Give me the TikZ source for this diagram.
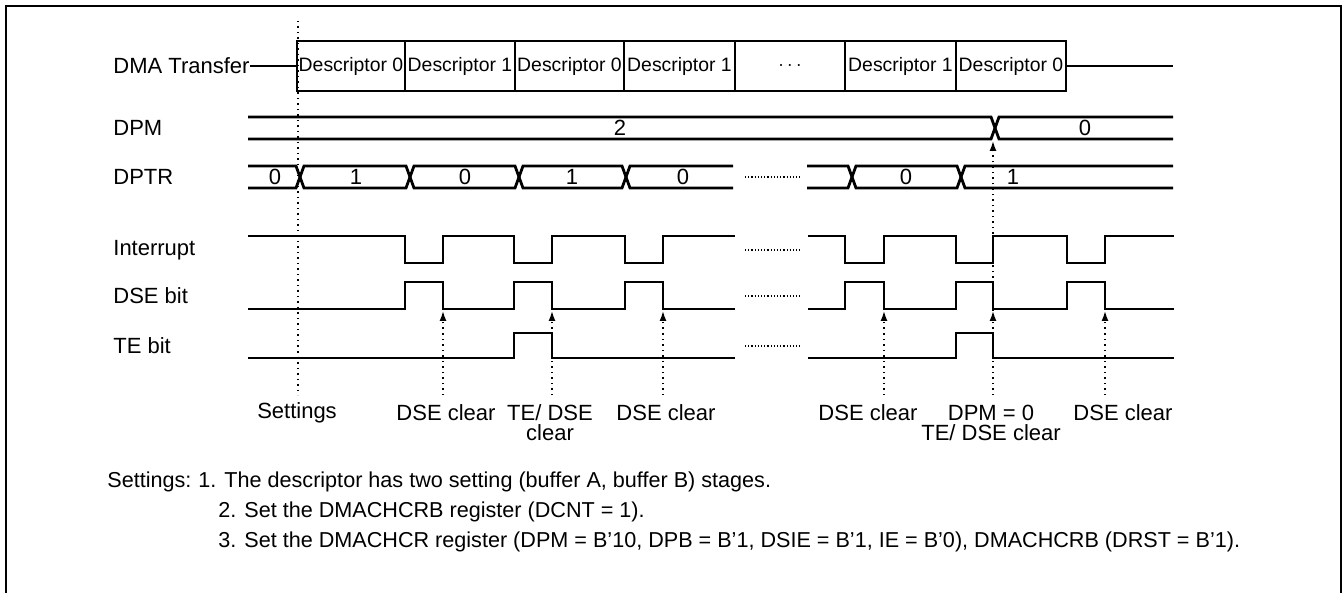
\documentclass[tikz,border=0pt]{standalone}
\usepackage{fontspec}
\setmainfont{Liberation Sans}
\usetikzlibrary{arrows.meta}
\begin{document}
\begin{tikzpicture}[x=0.5pt,y=-0.5pt,
  txt/.style={inner sep=0pt, font=\fontsize{11}{10}\selectfont},
  lab/.style={txt, anchor=west},
  note/.style={inner sep=0pt, anchor=west, font=\fontsize{10.8}{10}\selectfont},
  desc/.style={draw, line width=1.4pt, inner sep=0pt, minimum height=25pt, font=\fontsize{9.7}{10}\selectfont},
  sig/.style={line width=1.4pt},
  thinline/.style={line width=0.7pt},
  guide/.style={line width=0.75pt, dotted},
  arr/.style={guide, -{Latex[length=5pt,width=3.5pt]}},
  gapdots/.style={line width=0.6pt, densely dotted}
]
\useasboundingbox (0,0) rectangle (1344,593);
% frame (open at the bottom)
\draw[line width=1.4pt] (6,593) -- (6,6) -- (1341,6) -- (1341,593);

% signal names
\node[lab] (ldma) at (113,66) {DMA Transfer};
\node[lab] (ldpm) at (113,128) {DPM};
\node[lab] (ldptr) at (113,177) {DPTR};
\node[lab] (lint) at (113,250) {Interrupt};
\node[lab] (ldse) at (113,296) {DSE bit};
\node[lab] (lte) at (113,346) {TE bit};

% DMA transfer boxes
\node[desc, minimum width=54pt] (d1) at (351,66) {Descriptor 0};
\node[desc, minimum width=55pt] (d2) at (460,66) {Descriptor 1};
\node[desc, minimum width=54.5pt] (d3) at (569.5,66) {Descriptor 0};
\node[desc, minimum width=55.5pt] (d4) at (679.5,66) {Descriptor 1};
\node[desc, minimum width=55pt] (d5) at (790,66) {$\cdots$};
\node[desc, minimum width=55.5pt] (d6) at (900.5,66) {Descriptor 1};
\node[desc, minimum width=55pt] (d7) at (1011,66) {Descriptor 0};
\coordinate (dend) at (1173,66);
\draw[thinline] (ldma.east) -- (d1.west);
\draw[thinline] (d7.east) -- (dend);

% DPM bus
\draw[sig] (248,117) -- (991,117) -- (999,139) -- (1173,139);
\draw[sig] (248,139) -- (991,139) -- (999,117) -- (1173,117);
\node[txt] (dpm2) at (620,128) {2};
\node[txt] (dpm0) at (1085,128) {0};

% DPTR bus
\draw[sig] (248,166) -- (296,166) -- (304,188) -- (406,188) -- (414,166) -- (515,166) -- (523,188) -- (622,188) -- (630,166) -- (733,166);
\draw[sig] (248,188) -- (296,188) -- (304,166) -- (406,166) -- (414,188) -- (515,188) -- (523,166) -- (622,166) -- (630,188) -- (733,188);
\draw[sig] (807,166) -- (848,166) -- (856,188) -- (957,188) -- (965,166) -- (1173,166);
\draw[sig] (807,188) -- (848,188) -- (856,166) -- (957,166) -- (965,188) -- (1173,188);
\node[txt] (p0) at (275,177) {0};
\node[txt] (p1) at (356,177) {1};
\node[txt] (p2) at (465,177) {0};
\node[txt] (p3) at (572,177) {1};
\node[txt] (p4) at (683,177) {0};
\node[txt] (p5) at (906,177) {0};
\node[txt] (p6) at (1013,177) {1};
\draw[gapdots] (745,177) -- (800,177);

% Interrupt
\draw[sig] (248,236) -- (405,236) -- (405,263) -- (443,263) -- (443,236) -- (514,236) -- (514,263) -- (552,263) -- (552,236) -- (625,236) -- (625,263) -- (663,263) -- (663,236) -- (735,236);
\draw[sig] (808,236) -- (845,236) -- (845,263) -- (884,263) -- (884,236) -- (956,236) -- (956,263) -- (993,263) -- (993,236) -- (1067,236) -- (1067,263) -- (1105,263) -- (1105,236) -- (1174,236);
\draw[gapdots] (745,250) -- (800,250);

% DSE bit
\draw[sig] (248,309) -- (405,309) -- (405,282) -- (443,282) -- (443,309) -- (514,309) -- (514,282) -- (552,282) -- (552,309) -- (625,309) -- (625,282) -- (663,282) -- (663,309) -- (735,309);
\draw[sig] (808,309) -- (845,309) -- (845,282) -- (884,282) -- (884,309) -- (956,309) -- (956,282) -- (993,282) -- (993,309) -- (1067,309) -- (1067,282) -- (1105,282) -- (1105,309) -- (1174,309);
\draw[gapdots] (745,296) -- (800,296);

% TE bit
\draw[sig] (248,358) -- (514,358) -- (514,333) -- (552,333) -- (552,358) -- (735,358);
\draw[sig] (808,358) -- (956,358) -- (956,333) -- (993,333) -- (993,358) -- (1174,358);
\draw[gapdots] (745,346) -- (800,346);

% guide lines and event arrows
\coordinate (st) at (298,21);
\coordinate (sb) at (298,395);
\draw[guide] (st) -- (sb);
\foreach \i/\x in {1/443,2/552,3/663,4/884,5/993,6/1105}{
  \coordinate (b\i) at (\x,395);
  \coordinate (e\i) at (\x,311);
  \draw[arr] (b\i) -- (e\i);
}
\coordinate (m5) at (993,141);
\draw[arr] (e5) -- (m5);

% event labels
\node[txt] (t0) at (297,413) {Settings};
\node[txt] (t1) at (446,413) {DSE clear};
\node[txt, align=center] (t2) at (550,423) {TE/ DSE\\clear};
\node[txt] (t3) at (666,413) {DSE clear};
\node[txt] (t4) at (868,413) {DSE clear};
\node[txt, align=center] (t5) at (991,423) {DPM = 0\\TE/ DSE clear};
\node[txt] (t6) at (1123,413) {DSE clear};

% notes
\node[note] (n0) at (107,482) {Settings:};
\node[note] (n1) at (198,482) {1. The descriptor has two setting (buffer A, buffer B) stages.};
\node[note] (n2) at (218,512) {2. Set the DMACHCRB register (DCNT = 1).};
\node[note] (n3) at (218,542) {3. Set the DMACHCR register (DPM = B'10, DPB = B'1, DSIE = B'1, IE = B'0), DMACHCRB (DRST = B'1).};
\end{tikzpicture}
\end{document}
